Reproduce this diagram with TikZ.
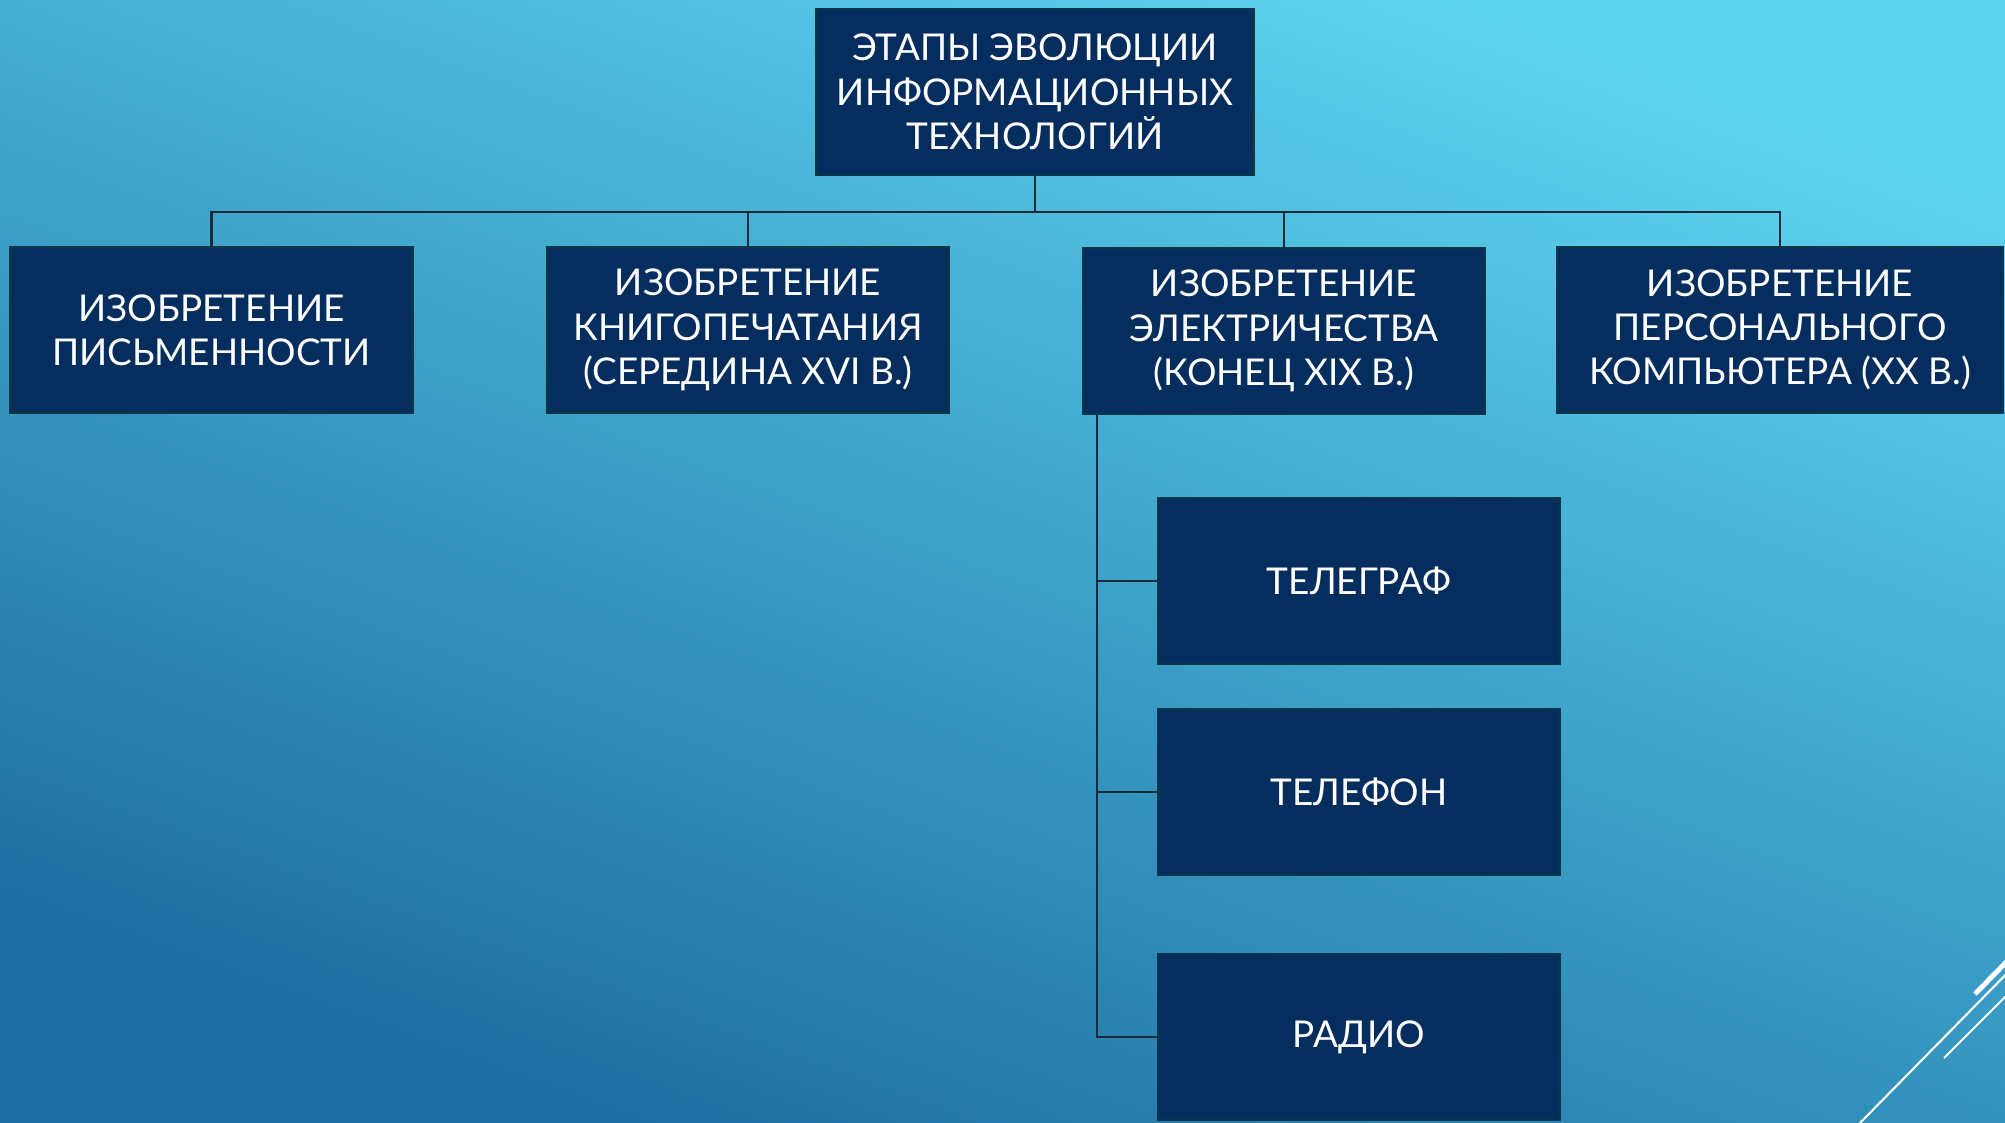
\documentclass[tikz,border=0pt]{standalone}
\usepackage{fontspec}
\setmainfont{Lato}
\usetikzlibrary{positioning}

\definecolor{bgtop}{HTML}{5ED3F0}
\definecolor{bgbot}{HTML}{1C6EA0}
\definecolor{navy}{HTML}{052D5E}
\definecolor{navyedge}{HTML}{0A3648}
\definecolor{linkgray}{HTML}{1B2B36}

\begin{document}
\begin{tikzpicture}[
    stage/.style={
        rectangle,
        draw=navyedge,
        fill=navy,
        line width=0.6pt,
        text=white,
        align=center,
        inner sep=2pt,
        minimum width=4.02cm,
        minimum height=1.66cm,
        font=\fontsize{10.5}{12.6}\selectfont
    },
    titlebox/.style={
        stage,
        minimum width=4.37cm
    },
    widebox/.style={
        stage,
        minimum width=4.46cm
    },
    link/.style={
        draw=linkgray,
        line width=0.6pt
    },
    deco/.style={
        draw=white
    }
]

    % --- BACKGROUND ---
    \shade[top color=bgtop, bottom color=bgbot, shading angle=-20] (0,0) rectangle (20.05,11.23);
    \useasboundingbox (0,0) rectangle (20.05,11.23);

    % --- TOP NODE ---
    \node[titlebox] (stages) at (10.35, 10.31) {ЭТАПЫ ЭВОЛЮЦИИ\\ИНФОРМАЦИОННЫХ\\ТЕХНОЛОГИЙ};

    % --- FOUR STAGES (Y = 7.93) ---
    \node[stage] (writing) at (2.115, 7.93) {ИЗОБРЕТЕНИЕ\\ПИСЬМЕННОСТИ};
    \node[stage] (printing) at (7.48, 7.93) {ИЗОБРЕТЕНИЕ\\КНИГОПЕЧАТАНИЯ\\(СЕРЕДИНА XVI В.)};
    \node[stage] (electricity) at (12.84, 7.92) {ИЗОБРЕТЕНИЕ\\ЭЛЕКТРИЧЕСТВА\\(КОНЕЦ XIX В.)};
    \node[widebox] (computer) at (17.80, 7.93) {ИЗОБРЕТЕНИЕ\\ПЕРСОНАЛЬНОГО\\КОМПЬЮТЕРА (XX В.)};

    % --- ELECTRICITY SUB-ITEMS ---
    \node[stage] (telegraph) at (13.59, 5.42) {ТЕЛЕГРАФ};
    \node[stage] (telephone) at (13.59, 3.31) {ТЕЛЕФОН};
    \node[stage] (radio) at (13.59, 0.86) {РАДИО};

    % Bus from the title down to the stages
    \draw[link] (stages.south) -- ++(0,-0.36) coordinate (bus);
    \draw[link] (bus) -| (writing.north);
    \draw[link] (bus) -| (printing.north);
    \draw[link] (bus) -| (electricity.north);
    \draw[link] (bus) -| (computer.north);

    % Spine on the left of the electricity box
    \coordinate (spine) at ([xshift=0.15cm]electricity.south west);
    \draw[link] (spine) |- (radio.west);
    \draw[link] (spine) |- (telegraph.west);
    \draw[link] (spine) |- (telephone.west);

    % --- CORNER DECORATION ---
    \begin{scope}
        \clip (0,0) rectangle (20.05,11.23);
        \draw[deco, line width=1.4pt] (19.75,1.29) -- (20.25,1.80);
        \draw[deco, line width=0.6pt] (18.60,0) -- (20.25,1.68);
        \draw[deco, line width=0.6pt] (19.44,0.65) -- (20.25,1.46);
    \end{scope}

\end{tikzpicture}
\end{document}
